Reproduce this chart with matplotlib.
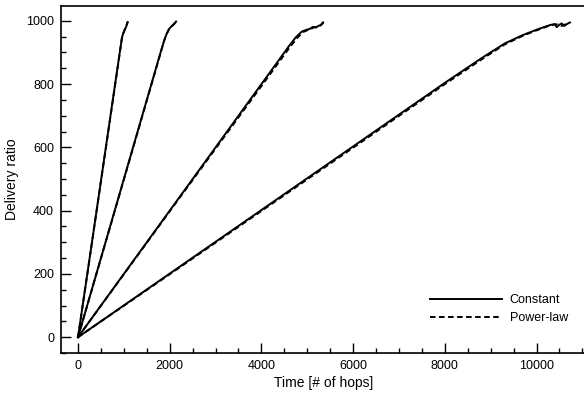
import matplotlib
matplotlib.use("Agg")
import matplotlib.pyplot as plt
from matplotlib.ticker import MultipleLocator

plt.rcParams['font.family'] = ['Liberation Sans', 'DejaVu Sans']
plt.rcParams['lines.scale_dashes'] = False

# Curve 1 (fastest)
c1_const_x = [0, 300, 600, 900, 960, 990, 1020, 1045, 1065, 1085]
c1_const_y = [0, 296, 593, 890, 948, 962, 972, 980, 988, 996]
c1_pow_x = [0, 300, 600, 900, 955, 985, 1015, 1040, 1060, 1080]
c1_pow_y = [0, 295, 591, 887, 944, 960, 971, 980, 987, 997]

# Curve 2
c2_const_x = [0, 600, 1200, 1800, 1880, 1930, 1990, 2040, 2080, 2110, 2140]
c2_const_y = [0, 300, 600, 900, 938, 958, 975, 983, 988, 992, 998]
c2_pow_x = [0, 600, 1200, 1800, 1875, 1925, 1985, 2035, 2075, 2105, 2135]
c2_pow_y = [0, 299, 598, 898, 936, 956, 974, 982, 987, 993, 997]

# Curve 3
c3_const_x = [0, 1000, 2000, 3000, 4000, 4600, 4750, 4880, 4990, 5060, 5125, 5190, 5240, 5290, 5345]
c3_const_y = [0, 200, 400, 600, 800, 920, 948, 966, 972, 975, 981, 979, 984, 986, 995]
c3_pow_x = [0, 1000, 2000, 3000, 4000, 4600, 4780, 4900, 5010, 5090, 5150, 5210, 5260, 5310, 5355]
c3_pow_y = [0, 199, 398, 596, 794, 913, 946, 964, 971, 975, 980, 980, 984, 988, 996]

# Curve 4 (slowest)
c4_const_x = [0, 2000, 4000, 6000, 8000, 8800, 9300, 9700, 10000, 10300, 10400, 10440, 10500, 10550, 10600, 10700]
c4_const_y = [0, 201, 402, 603, 804, 882, 928, 955, 972, 987, 990, 980, 988, 992, 984, 993]
c4_pow_x = [0, 2000, 4000, 6000, 8000, 8800, 9300, 9700, 10000, 10300, 10450, 10550, 10650, 10750]
c4_pow_y = [0, 199, 399, 599, 800, 878, 925, 953, 970, 986, 989, 984, 990, 996]

const_series = [(c1_const_x, c1_const_y), (c2_const_x, c2_const_y),
                (c3_const_x, c3_const_y), (c4_const_x, c4_const_y)]
pow_series = [(c1_pow_x, c1_pow_y), (c2_pow_x, c2_pow_y),
              (c3_pow_x, c3_pow_y), (c4_pow_x, c4_pow_y)]

fig = plt.figure(figsize=(5.84, 3.94), dpi=100)
ax = fig.add_axes([61/584, 41/394, 526/584, 347/394])

lw = 1.4
for i, (x, y) in enumerate(pow_series):
    ax.plot(x, y, color='black', lw=lw, dashes=(4, 2.5),
            label='Power-law' if i == 0 else None)
for i, (x, y) in enumerate(const_series):
    ax.plot(x, y, color='black', lw=lw, label='Constant' if i == 0 else None)

ax.set_xlim(-371, 11101)
ax.set_ylim(-50, 1047)

ax.xaxis.set_major_locator(MultipleLocator(2000))
ax.xaxis.set_minor_locator(MultipleLocator(500))
ax.yaxis.set_major_locator(MultipleLocator(200))
ax.yaxis.set_minor_locator(MultipleLocator(50))
ax.tick_params(which='both', direction='in', top=False, right=False,
               labelsize=9, width=1.0, pad=5)
ax.tick_params(which='major', length=7)
ax.tick_params(which='minor', length=3.3)
for s in ['left', 'bottom', 'top']:
    ax.spines[s].set_linewidth(1.2)
ax.spines['right'].set_visible(False)

ax.set_xlabel('Time [# of hops]', fontsize=10, labelpad=3)
ax.set_ylabel('Delivery ratio', fontsize=10, labelpad=5)

handles, labels = ax.get_legend_handles_labels()
order = [labels.index('Constant'), labels.index('Power-law')]
ax.legend([handles[k] for k in order], [labels[k] for k in order],
          frameon=False, fontsize=9, loc='lower right',
          bbox_to_anchor=(0.983, 0.055), handlelength=5.7, handletextpad=0.65,
          labelspacing=0.45, borderpad=0.3)

fig.savefig('out.png', dpi=100)
